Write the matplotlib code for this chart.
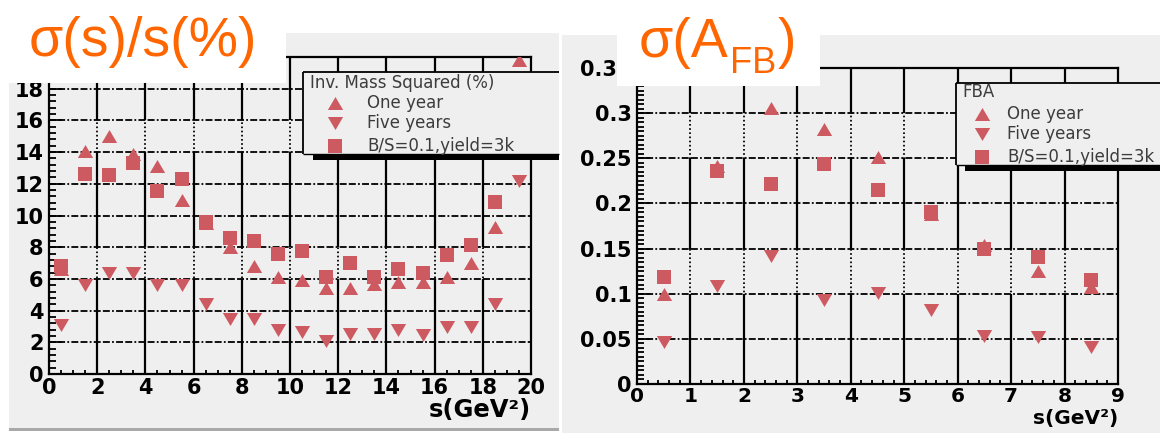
import numpy as np
import matplotlib
matplotlib.use("Agg")
import matplotlib.pyplot as plt
from matplotlib.patches import Rectangle
from matplotlib.lines import Line2D
from matplotlib.path import Path
from matplotlib.ticker import MultipleLocator, FuncFormatter
from matplotlib.font_manager import FontProperties

# ---------------- data ----------------
# invariant mass squared resolution (%), bins of 1 GeV^2
s_mass = [0.5, 1.5, 2.5, 3.5, 4.5, 5.5, 6.5, 7.5, 8.5, 9.5,
          10.5, 11.5, 12.5, 13.5, 14.5, 15.5, 16.5, 17.5, 18.5, 19.5]
mass_one_year = [6.6, 14.1, 15.0, 13.9, 13.1, 11.0, 9.5, 8.0, 6.8, 6.1,
                 5.9, 5.4, 5.4, 5.7, 5.8, 5.8, 6.1, 7.0, 9.3, 19.8]
mass_five_years = [3.1, 5.6, 6.4, 6.4, 5.6, 5.6, 4.4, 3.5, 3.5, 2.8,
                   2.65, 2.1, 2.55, 2.55, 2.8, 2.45, 2.95, 2.95, 4.4, 12.2]
mass_bs = [6.8, 12.6, 12.55, 13.3, 11.55, 12.3, 9.6, 8.6, 8.4, 7.6,
           7.75, 6.15, 7.0, 6.1, 6.6, 6.35, 7.5, 8.15, 10.85, np.nan]

# forward-backward asymmetry uncertainty
s_fba = [0.5, 1.5, 2.5, 3.5, 4.5, 5.5, 6.5, 7.5, 8.5]
fba_one_year = [0.100, 0.241, 0.306, 0.282, 0.251, 0.188, 0.154, 0.125, 0.107]
fba_five_years = [0.047, 0.108, 0.142, 0.093, 0.101, 0.082, 0.053, 0.052, 0.041]
fba_bs = [0.118, 0.236, 0.221, 0.244, 0.215, 0.190, 0.149, 0.141, 0.115]

series_labels = ["One year", "Five years", "B/S=0.1,yield=3k"]
mass_header = "Inv. Mass Squared (%)"
fba_header = "FBA"
mass_title = "σ(s)/s(%)"
fba_title_parts = ["σ(A", "FB", ")"]
xlabel = "s(GeV²)"

# ---------------- style ----------------
W, H = 1160, 433
plt.rcParams['lines.scale_dashes'] = False

MARK = '#cd5a60'
ORANGE = '#ff6600'
PANEL = '#efefef'
LEGFONT = dict(fontsize=12, color='#3c3c3c', family='DejaVu Sans')


def fx(px):
    return px / W


def fy(py):
    return 1 - py / H


def tri(up):
    k = 1 if up else -1
    verts = [(0, 0.85 * k), (-1, -0.85 * k), (1, -0.85 * k), (0, 0.85 * k)]
    return Path(verts, closed=True)


STYLES = [dict(marker=tri(True), ms=11),
          dict(marker=tri(False), ms=11),
          dict(marker='s', ms=9.5)]

fig = plt.figure(figsize=(W / 100, H / 100), dpi=100)
fig.patch.set_facecolor('white')


def rect_px(x0, y0, x1, y1, color, z):
    fig.add_artist(Rectangle((fx(x0), fy(y1)), fx(x1) - fx(x0), fy(y0) - fy(y1),
                             transform=fig.transFigure, facecolor=color,
                             edgecolor='none', zorder=z))


def line_px(xs, ys, lw, z, color='black'):
    fig.add_artist(Line2D([fx(v) for v in xs], [fy(v) for v in ys],
                          transform=fig.transFigure, color=color, lw=lw,
                          solid_capstyle='butt', zorder=z))


# canvas backgrounds
rect_px(9, 33, 559, 431, PANEL, -5)
rect_px(9, 428, 559, 431, '#a9a9a9', -4)
rect_px(562, 35, 1160, 433, PANEL, -5)


def setup_axes(ax, xmax, ymax, xmaj, xmin, ymaj, ymin, solid_spans,
               xlabel_y, xlabel_size, xtick_size, xtick_pad, hide_top_label):
    ax.set_facecolor('none')
    ax.set_xlim(0, xmax)
    ax.set_ylim(0, ymax)
    ax.xaxis.set_major_locator(MultipleLocator(xmaj))
    ax.xaxis.set_minor_locator(MultipleLocator(xmin))
    ax.yaxis.set_major_locator(MultipleLocator(ymaj))
    ax.yaxis.set_minor_locator(MultipleLocator(ymin))
    fmt = FuncFormatter(lambda v, p: "%g" % round(v, 6))
    yfmt = FuncFormatter(lambda v, p: "" if (hide_top_label and v >= ymax - 1e-9)
                         else "%g" % round(v, 6))
    ax.xaxis.set_major_formatter(fmt)
    ax.yaxis.set_major_formatter(yfmt)
    for sp in ax.spines.values():
        sp.set_linewidth(1.6)
        sp.set_color('black')
    ax.tick_params(which='both', direction='in', top=False, right=False,
                   color='black', width=1.3)
    ax.tick_params(axis='y', which='major', length=9, pad=4)
    ax.tick_params(axis='y', which='minor', length=5)
    ax.tick_params(axis='x', which='major', length=6, pad=xtick_pad)
    ax.tick_params(axis='x', which='minor', length=3)
    for lab in ax.get_yticklabels():
        lab.set_fontproperties(FontProperties(family='DejaVu Sans', weight='bold', size=15))
    for lab in ax.get_xticklabels():
        lab.set_fontproperties(FontProperties(family='DejaVu Sans', weight='bold',
                                              size=xtick_size))
    # horizontal grid: dash-dot
    ax.grid(axis='y', which='major', color='black', lw=1.3,
            linestyle=(0, (5, 1.6, 5, 1.6, 1.3, 1.6)), zorder=1)
    # vertical grid: dotted with long solid stretches
    xs = [v for v in ax.get_xticks() if 0 < v < xmax - 1e-9]
    ax.vlines(xs, 0, ymax, colors='black', lw=1.3, linestyles=(0, (1.2, 1.8)), zorder=1)
    for lo, hi in solid_spans:
        ax.vlines(xs, lo, hi, colors='black', lw=1.6, zorder=1)
    ax.set_axisbelow(True)
    ax.set_xlabel(xlabel, fontsize=xlabel_size, fontweight='bold',
                  family='DejaVu Sans', ha='right', va='top')
    ax.xaxis.set_label_coords(1.0, xlabel_y)


def plot_series(ax, s, values):
    for vals, st in zip(values, STYLES):
        ax.plot(s, vals, linestyle='none', color=MARK, mew=0, zorder=3,
                clip_on=True, **st)


ax1 = fig.add_axes([fx(49), fy(374), fx(531) - fx(49), fy(57) - fy(374)])
setup_axes(ax1, 20, 20, 2, 0.5, 2, 0.4, [(0, 6), (8, 14), (16, 20)],
           -0.075, 17.5, 15, 3, True)
plot_series(ax1, s_mass, [mass_one_year, mass_five_years, mass_bs])

ax2 = fig.add_axes([fx(637), fy(384), fx(1118) - fx(637), fy(68) - fy(384)])
setup_axes(ax2, 9, 0.35, 1, 0.2, 0.05, 0.005,
           [(0, 0.1), (0.15, 0.25), (0.3, 0.35)], -0.08, 14.5, 14.5, 2, False)
plot_series(ax2, s_fba, [fba_one_year, fba_five_years, fba_bs])


def legend_box(x0, y0, x1, y1, sdx, sdy, header, hx, mx, tx, rows):
    rect_px(x0 + sdx, y1, x1, y1 + sdy, 'black', 5)
    rect_px(x0, y0, x1, y1, PANEL, 6)
    line_px([x0, x1], [y0, y0], 1.3, 7)
    line_px([x0, x0], [y0, y1], 1.3, 7)
    line_px([x0, x1], [y1, y1], 1.0, 7)
    fig.text(fx(hx), fy(rows[0]), header, va='center', ha='left', zorder=8, **LEGFONT)
    for lab, st, ry in zip(series_labels, STYLES, rows[1:]):
        fig.add_artist(Line2D([fx(mx)], [fy(ry)], transform=fig.transFigure,
                              linestyle='none', color=MARK, mew=0, zorder=8, **st))
        fig.text(fx(tx), fy(ry), lab, va='center', ha='left', zorder=8, **LEGFONT)


legend_box(303, 72, 559, 154, 10, 6, mass_header, 310, 335, 367,
           [83, 103, 123, 146])
legend_box(956, 83, 1162, 165, 9, 6, fba_header, 962, 982, 1007,
           [92, 114, 134, 157])

# title plates
rect_px(0, 0, 286, 83, 'white', 10)
rect_px(617, 0, 820, 86, 'white', 10)
fig.text(fx(29), fy(55.5), mass_title, fontsize=40, color=ORANGE,
         family='Liberation Sans', va='baseline', ha='left', zorder=11)

# sigma(A_FB): main text, lowered subscript, closing parenthesis
renderer = fig.canvas.get_renderer()
t_main = fig.text(fx(639), fy(57), fba_title_parts[0], fontsize=40, color=ORANGE,
                  family='Liberation Sans', va='baseline', ha='left', zorder=11)
x_end = t_main.get_window_extent(renderer).x1
t_sub = fig.text(x_end / W + 0.001, fy(73), fba_title_parts[1], fontsize=26,
                 color=ORANGE, family='Liberation Sans', va='baseline',
                 ha='left', zorder=11)
x_end = t_sub.get_window_extent(renderer).x1
fig.text(x_end / W + 0.001, fy(57), fba_title_parts[2], fontsize=40, color=ORANGE,
         family='Liberation Sans', va='baseline', ha='left', zorder=11)

fig.savefig('out.png', dpi=100, facecolor='white')
